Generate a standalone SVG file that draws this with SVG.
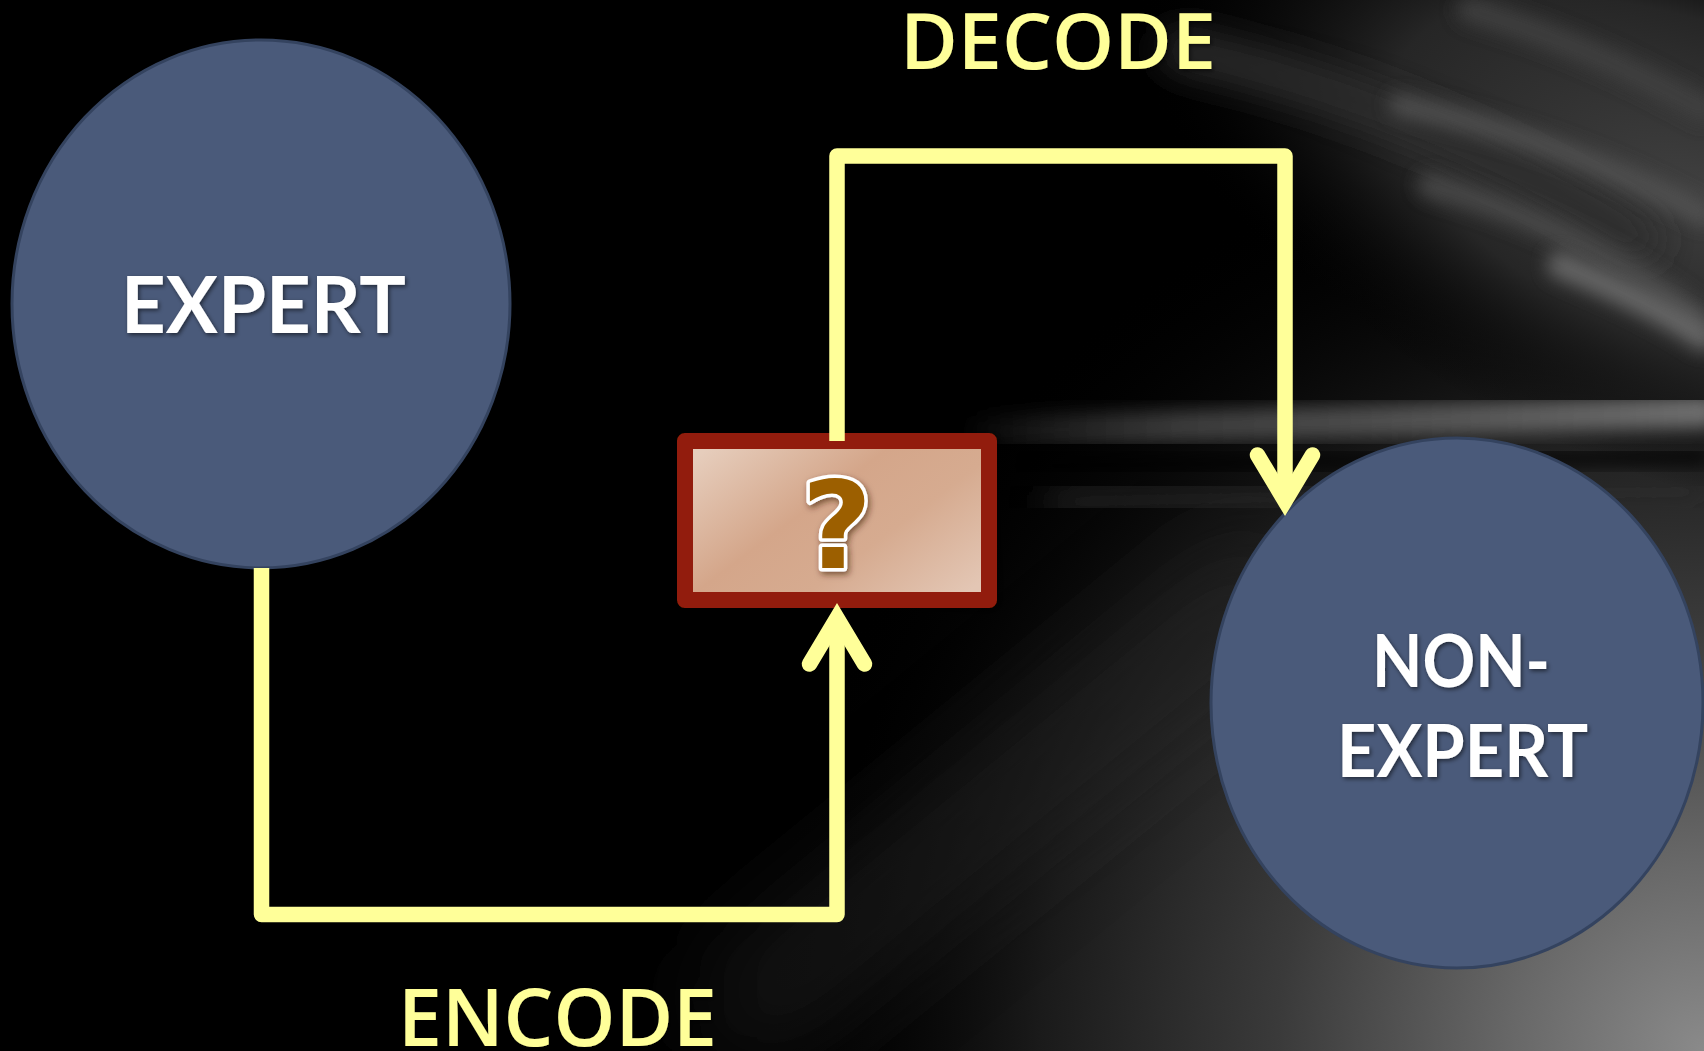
<svg xmlns="http://www.w3.org/2000/svg" width="1704" height="1051" viewBox="0 0 1704 1051">
  <defs>
    <style>
      .node-shape { fill: #4A5A7A; stroke: #34435F; stroke-width: 3; }
      .node-label { fill: #FFFFFF; font-family: Lato, "Open Sans", "Liberation Sans", sans-serif; font-weight: 700; text-anchor: middle; }
      .flow-label { fill: #FFFF99; font-family: "Open Sans", "Liberation Sans", sans-serif; font-weight: 600; text-anchor: middle; }
      .wire { fill: none; stroke: #FFFF99; stroke-width: 15.5; stroke-linejoin: round; stroke-linecap: butt; }
      .head { fill: none; stroke: #FFFF99; stroke-width: 15.5; stroke-linejoin: miter; stroke-miterlimit: 6; stroke-linecap: round; }
      .streak { fill: none; stroke-linecap: round; }
    </style>

    <!-- backdrop lighting -->
    <radialGradient id="cornerGlow" gradientUnits="userSpaceOnUse" cx="1704" cy="1051" r="950">
      <stop offset="0" stop-color="#8a8a8a"/>
      <stop offset="0.2" stop-color="#686868"/>
      <stop offset="0.45" stop-color="#3a3a3a"/>
      <stop offset="0.7" stop-color="#1a1a1a"/>
      <stop offset="1" stop-color="#000000" stop-opacity="0"/>
    </radialGradient>
    <radialGradient id="upperGlow" gradientUnits="userSpaceOnUse" cx="0" cy="0" r="1"
                    gradientTransform="translate(1704 190) rotate(22) scale(600 290)">
      <stop offset="0" stop-color="#404040"/>
      <stop offset="0.55" stop-color="#262626"/>
      <stop offset="1" stop-color="#000000" stop-opacity="0"/>
    </radialGradient>
    <linearGradient id="bandFade" gradientUnits="userSpaceOnUse" x1="960" y1="0" x2="1704" y2="0">
      <stop offset="0" stop-color="#5a5a5a" stop-opacity="0"/>
      <stop offset="0.3" stop-color="#4a4a4a" stop-opacity="0.8"/>
      <stop offset="1" stop-color="#707070"/>
    </linearGradient>
    <filter id="blurS" x="-20%" y="-60%" width="140%" height="220%"><feGaussianBlur stdDeviation="9"/></filter>
    <filter id="blurM" x="-20%" y="-60%" width="140%" height="220%"><feGaussianBlur stdDeviation="18"/></filter>
    <filter id="blurL" x="-30%" y="-30%" width="160%" height="160%"><feGaussianBlur stdDeviation="45"/></filter>

    <!-- box fill -->
    <linearGradient id="boxFill" x1="0" y1="0.15" x2="1" y2="0.85">
      <stop offset="0" stop-color="#E6CDBC"/>
      <stop offset="0.4" stop-color="#D4A68A"/>
      <stop offset="0.65" stop-color="#D6AB90"/>
      <stop offset="1" stop-color="#E3C6B4"/>
    </linearGradient>

    <filter id="textLift" x="-10%" y="-20%" width="120%" height="150%">
      <feDropShadow dx="1.5" dy="2" stdDeviation="2" flood-color="#000" flood-opacity="0.55"/>
    </filter>
    <filter id="boxLift" x="-10%" y="-15%" width="125%" height="135%">
      <feDropShadow dx="3" dy="3" stdDeviation="5" flood-color="#000" flood-opacity="0.6"/>
    </filter>
    <filter id="markLift" x="-30%" y="-20%" width="160%" height="150%">
      <feDropShadow dx="2" dy="3" stdDeviation="3" flood-color="#3a1a00" flood-opacity="0.6"/>
    </filter>
  </defs>

  <!-- backdrop -->
  <g id="backdrop">
    <rect width="1704" height="1051" fill="#000000"/>
    <rect width="1704" height="1051" fill="url(#cornerGlow)"/>
    <rect width="1704" height="1051" fill="url(#upperGlow)"/>
    <path class="streak" d="M760,1000 L1250,600" stroke="#262626" stroke-width="120" opacity="0.5" filter="url(#blurL)"/>
    <path class="streak" d="M1180,50 C1340,85 1500,150 1640,240" stroke="#2e2e2e" stroke-width="40" filter="url(#blurM)"/>
    <path class="streak" d="M1400,105 C1520,130 1620,170 1704,215" stroke="#555555" stroke-width="22" opacity="0.85" filter="url(#blurS)"/>
    <path class="streak" d="M1430,185 C1550,220 1640,270 1704,320" stroke="#4e4e4e" stroke-width="24" opacity="0.85" filter="url(#blurS)"/>
    <path class="streak" d="M1560,265 C1620,290 1670,315 1704,338" stroke="#707070" stroke-width="26" opacity="0.85" filter="url(#blurS)"/>
    <path class="streak" d="M1470,10 C1570,40 1640,75 1704,110" stroke="#424242" stroke-width="26" opacity="0.85" filter="url(#blurS)"/>
    <path class="streak" d="M980,432 C1200,426 1450,420 1704,412" stroke="url(#bandFade)" stroke-width="32" filter="url(#blurS)"/>
    <path class="streak" d="M1040,466 C1250,462 1480,460 1704,457" stroke="#060606" stroke-width="14" opacity="0.9" filter="url(#blurS)"/>
    <path class="streak" d="M1060,502 C1250,497 1480,494 1704,492" stroke="#2c2c2c" stroke-width="30" opacity="0.8" filter="url(#blurM)"/>
  </g>

  <!-- nodes -->
  <g id="expert">
    <ellipse class="node-shape" cx="261" cy="304" rx="249" ry="264"/>
    <text class="node-label" x="263.5" y="333" font-size="79" textLength="285" lengthAdjust="spacingAndGlyphs" filter="url(#textLift)">EXPERT</text>
  </g>

  <g id="non-expert">
    <ellipse class="node-shape" cx="1457" cy="703" rx="246" ry="265"/>
    <text class="node-label" x="1461" y="687" font-size="73" textLength="178" lengthAdjust="spacingAndGlyphs" filter="url(#textLift)">NON-</text>
    <text class="node-label" x="1462.5" y="777" font-size="73" textLength="251" lengthAdjust="spacingAndGlyphs" filter="url(#textLift)">EXPERT</text>
  </g>

  <g id="message">
    <rect x="685" y="441" width="304" height="159" fill="url(#boxFill)" stroke="#921E08" stroke-width="16" stroke-linejoin="round" filter="url(#boxLift)"/>
    <text x="837" y="568" font-family="'DejaVu Sans', Verdana, sans-serif" font-weight="700" font-size="122" text-anchor="middle" fill="#9C5F00" stroke="#FFFFFF" stroke-width="7" stroke-linejoin="round" paint-order="stroke" filter="url(#markLift)">?</text>
  </g>

  <!-- connectors -->
  <g id="connectors">
    <g id="encode-link">
      <path class="wire" d="M261.5,568 V914.5 H837 V620"/>
      <polyline class="head" points="809.5,664 837,618 864.5,664"/>
    </g>
    <g id="decode-link">
      <path class="wire" d="M837,441 V156 H1285 V500"/>
      <polyline class="head" points="1257.5,455 1285,501 1312.5,455"/>
    </g>
  </g>

  <!-- connector labels -->
  <g id="labels">
    <text class="flow-label" x="1058" y="69" font-size="78" textLength="316" lengthAdjust="spacingAndGlyphs" filter="url(#textLift)">DECODE</text>
    <text class="flow-label" x="557.5" y="1046" font-size="79" textLength="319" lengthAdjust="spacingAndGlyphs" filter="url(#textLift)">ENCODE</text>
  </g>
</svg>
